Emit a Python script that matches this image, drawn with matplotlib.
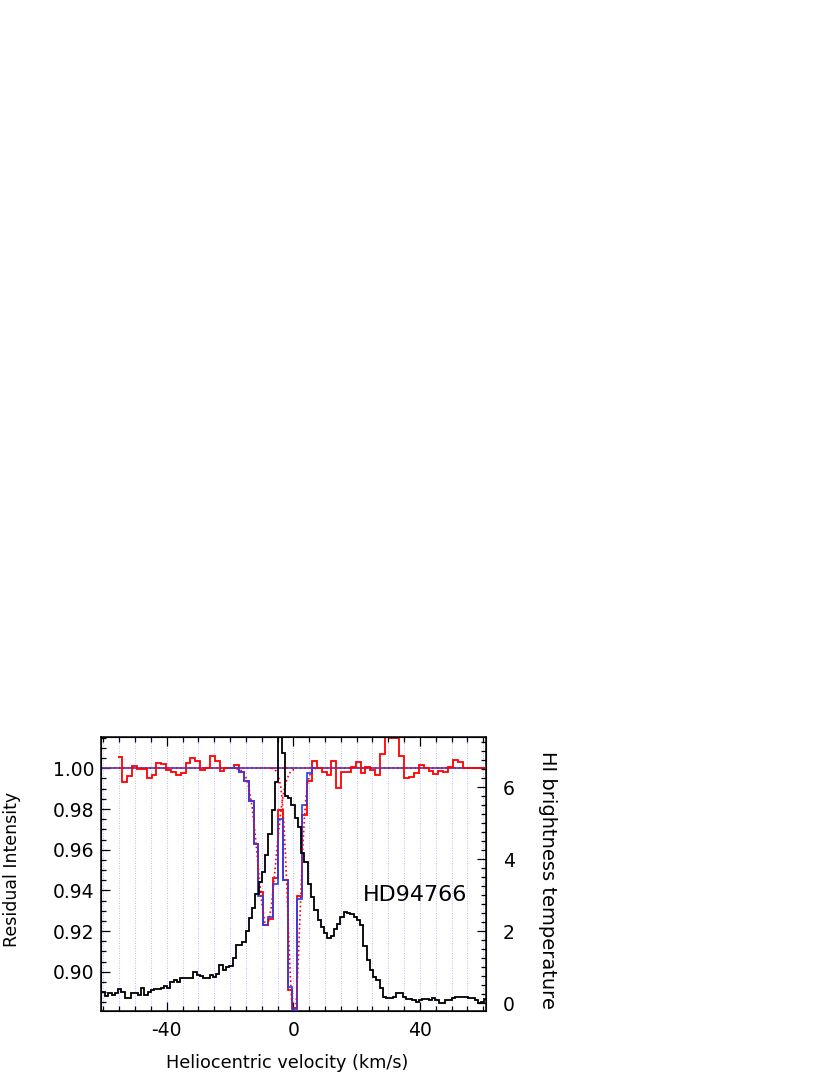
import matplotlib
matplotlib.use("Agg")
import matplotlib.pyplot as plt
from matplotlib.ticker import MultipleLocator, FormatStrFormatter
import numpy as np

plt.rcParams['font.family'] = ['DejaVu Sans']
plt.rcParams['axes.unicode_minus'] = False

# --- data ------------------------------------------------------------

star = "HD94766"

# HI emission (brightness temperature, K), channels of ~1.03 km/s
hi_v0 = -60.52
hi_dv = 1.0328
hi_temp = [0.31, 0.19, 0.27, 0.22, 0.29, 0.38, 0.31, 0.13, 0.13, 0.29,
           0.29, 0.22, 0.41, 0.22, 0.31, 0.36, 0.38, 0.38, 0.41, 0.47,
           0.41, 0.59, 0.64, 0.59, 0.69, 0.71, 0.69, 0.71, 0.87, 0.78,
           0.74, 0.71, 0.71, 0.78, 0.73, 0.82, 1.06, 0.92, 1.01, 1.03,
           1.24, 1.60, 1.60, 1.70, 2.00, 2.35, 2.65, 3.02, 3.35, 3.65,
           4.10, 4.70, 5.35, 6.15, 7.60, 6.95, 5.75, 5.70, 5.50, 5.13,
           4.90, 4.16, 3.93, 3.30, 2.95, 2.58, 2.30, 2.10, 1.95, 1.80,
           1.85, 2.07, 2.21, 2.38, 2.54, 2.50, 2.47, 2.40, 2.31, 2.17,
           1.58, 1.19, 0.92, 0.73, 0.64, 0.41, 0.18, 0.13, 0.13, 0.18,
           0.27, 0.29, 0.18, 0.10, 0.10, 0.08, 0.04, 0.08, 0.10, 0.10,
           0.08, 0.15, 0.08, 0.01, 0.00, 0.08, 0.08, 0.15, 0.18, 0.18,
           0.18, 0.16, 0.15, 0.13, 0.08, 0.00, 0.04, 0.10]

# absorption spectrum (residual intensity), pixels of ~1.535 km/s
abs_v0 = -55.53
abs_dv = 1.535
resid = [1.0057, 0.9934, 0.9964, 1.0013, 0.9995, 0.9995, 0.9954, 0.9967,
         1.0028, 1.0020, 0.9992, 0.9984, 0.9967, 0.9975, 1.0026, 1.0052,
         1.0036, 0.9993, 1.0001, 1.0059, 1.0036, 0.9987, 1.0000,
         1.0000, 1.0016, 0.9980, 0.9940, 0.9840, 0.9630, 0.9390, 0.9230,
         0.9260, 0.9460, 0.9795, 0.9450, 0.8910, 0.8820, 0.9370, 0.9770,
         0.9940, 1.0037,
         1.0000, 0.9984, 0.9967, 1.0036, 0.9903, 0.9980, 0.9980, 1.0007,
         1.0031, 0.9975, 1.0005, 0.9990, 0.9967, 1.0069, 1.0152, 1.0150,
         1.0148, 1.0061, 0.9954, 0.9959, 0.9975, 1.0016, 1.0000, 0.9987,
         0.9970, 0.9987, 0.9984, 1.0008, 1.0041, 1.0033, 1.0003,
         1.0000, 1.0000, 1.0000, 1.0000]

# fitted model over the absorption pixels (first fitted pixel index 23)
fit_start = 23
fit_vals = [1.0, 1.0, 0.998, 0.994, 0.984, 0.963, 0.937, 0.923, 0.927,
            0.943, 0.975, 0.945, 0.8925, 0.881, 0.936, 0.982, 0.9975, 1.0]

# individual components (dotted)
compA_v = [-18, -17, -16, -15, -14, -13, -12, -11, -10, -9, -8, -7, -6,
           -5, -4, -3, -2, -1, 0, 1]
compA_i = [0.9998, 0.9995, 0.9984, 0.9957, 0.9903, 0.9808, 0.9668, 0.9500,
           0.9342, 0.9240, 0.9230, 0.9315, 0.9466, 0.9636, 0.9783, 0.9888,
           0.9949, 0.9980, 0.9993, 0.9998]
compB_v = [-7, -6, -5, -4, -3.5, -3, -2.5, -2, -1.5, -1, -0.5, 0, 0.5, 1,
           1.5, 2, 2.5, 3, 3.5, 4, 4.5, 5, 6, 7]
compB_i = [1.0, 0.9996, 0.998, 0.9913, 0.9841, 0.9732, 0.958, 0.9394, 0.919,
           0.8997, 0.8848, 0.877, 0.8779, 0.8873, 0.9033, 0.923, 0.9433,
           0.9614, 0.9757, 0.9859, 0.9924, 0.9962, 0.9993, 0.9999]

# --- figure ------------------------------------------------------------

fig = plt.figure(figsize=(8.3, 10.75), dpi=100)
ax = fig.add_axes([101/830, 1-1011/1075, 385/830, 274/1075])

xmin, xmax = -60.75, 60.85
ax.set_xlim(xmin, xmax)
ax.set_ylim(0.8807, 1.0154)

for v in np.arange(-60, 61, 5):
    ax.axvline(v, color='#a0a0ff', lw=0.6, ls=(0, (1, 2)), zorder=1)

ax.axhline(1.0, color='#2040ff', lw=1.2, zorder=2)
ax.axhline(1.0, color='red', lw=1.2, ls=':', zorder=3)

abs_edges = abs_v0 + abs_dv*np.arange(len(resid)+1)
fit_edges = abs_edges[fit_start:fit_start+len(fit_vals)+1]
ax.stairs(resid, abs_edges, baseline=None, color='red', lw=1.3, zorder=3)
ax.stairs(fit_vals, fit_edges, baseline=None, color='#2040ff', lw=1.2, zorder=4)
ax.plot(compA_v, compA_i, color='red', ls=':', lw=1.2, zorder=5)
ax.plot(compB_v, compB_i, color='red', ls=':', lw=1.2, zorder=5)

ax.xaxis.set_major_locator(MultipleLocator(40))
ax.xaxis.set_minor_locator(MultipleLocator(5))
ax.yaxis.set_major_locator(MultipleLocator(0.02))
ax.yaxis.set_minor_locator(MultipleLocator(0.005))
ax.yaxis.set_major_formatter(FormatStrFormatter('%.2f'))
ax.tick_params(which='both', direction='in', top=True, right=False,
               width=0.9, labelsize=13.5)
ax.tick_params(which='major', length=6.5)
ax.tick_params(which='minor', length=3.6)
ax.tick_params(axis='x', pad=7)
ax.tick_params(axis='y', pad=5)
for s in ax.spines.values():
    s.set_linewidth(1.1)

ax2 = ax.twinx()
ax2.set_ylim(-0.22, 7.39)
hi_edges = hi_v0 + hi_dv*np.arange(len(hi_temp)+1)
ax2.stairs(hi_temp, hi_edges, baseline=None, color='black', lw=1.3)
ax2.yaxis.set_major_locator(MultipleLocator(2))
ax2.yaxis.set_minor_locator(MultipleLocator(0.25))
ax2.tick_params(which='both', direction='in', width=0.9, labelsize=13.5, pad=12)
ax2.tick_params(which='major', length=6.5)
ax2.tick_params(which='minor', length=3.6)
ax2.set_xlim(xmin, xmax)

ax.text(0.68, 0.423, star, transform=ax.transAxes, fontsize=16,
        ha='left', va='center')

fig.text(12.5/830, 1-869/1075, "Residual Intensity", rotation=90,
         fontsize=12.5, ha='center', va='center')
fig.text(548/830, 1-880/1075, "HI brightness temperature", rotation=-90,
         fontsize=14, ha='center', va='center')
fig.text(287/830, 1-1063/1075, "Heliocentric velocity (km/s)",
         fontsize=12.7, ha='center', va='center')

fig.savefig("out.png", dpi=100)
